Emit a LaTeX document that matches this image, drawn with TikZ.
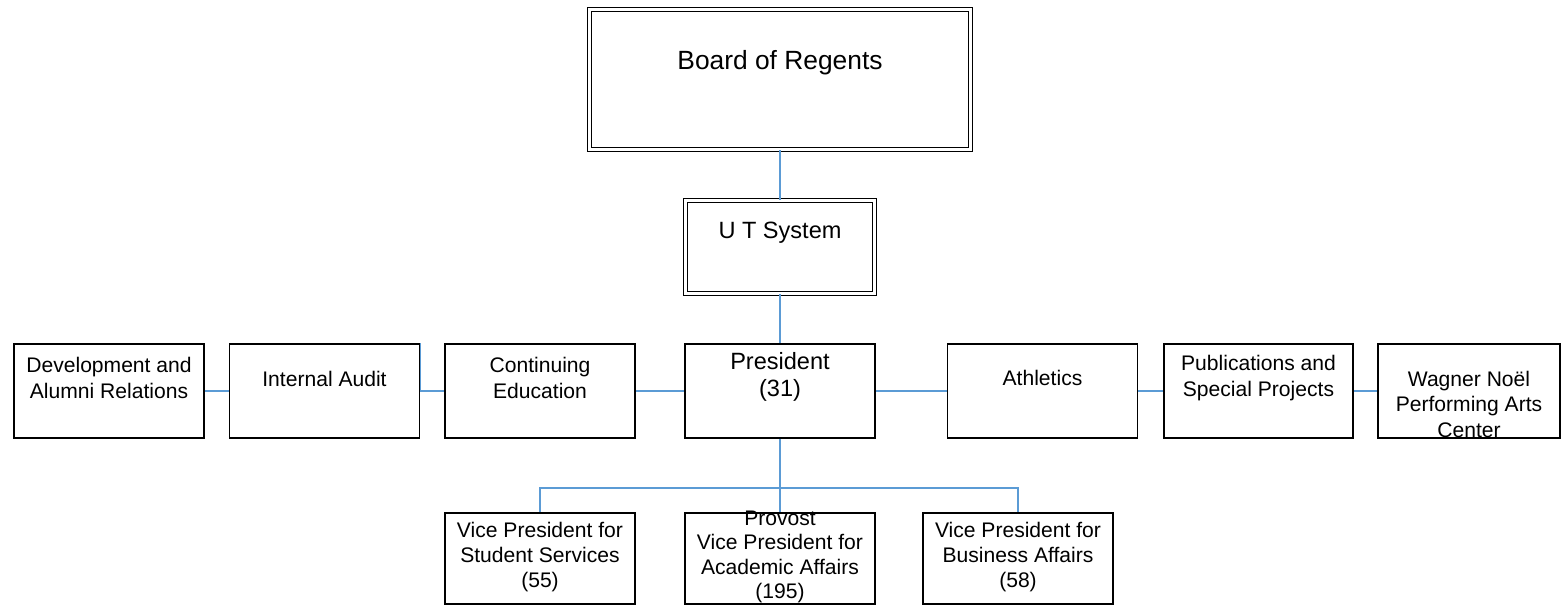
\documentclass[tikz,border=0pt]{standalone}
\usepackage{fontspec}
\setmainfont{Liberation Sans}
\definecolor{linkblue}{RGB}{91,155,213}
\tikzset{
    unit/.style={draw, line width=1pt, inner sep=0pt, minimum width=3.8cm, minimum height=1.88cm},
    headbox/.style={draw, double, line width=0.7pt, double distance=0.05cm, inner sep=0pt},
    boxtext/.style={align=center, inner sep=0pt, font=\fontsize{12}{14.5}\selectfont},
    link/.style={draw=linkblue, line width=0.8pt}
}
\begin{document}
\begin{tikzpicture}[x=0.02cm, y=-0.02cm]
    \useasboundingbox (0,0) rectangle (1562,607);

    % top of the chart
    \node[headbox, minimum width=7.62cm, minimum height=2.8cm] (board) at (780,79.5) {};
    \node[boxtext, font=\fontsize{15}{18}\selectfont] (board-t) at (780,63) {Board of Regents};
    \node[headbox, minimum width=3.78cm, minimum height=1.86cm] (ut) at (780,247) {};
    \node[boxtext, font=\fontsize{13.4}{16}\selectfont] (ut-t) at (780,233) {U T System};

    \node[unit] (pres) at (780,391) {};
    \node[boxtext, font=\fontsize{13.4}{15.5}\selectfont] (pres-t) at (780,377) {President\\(31)};

    % offices beside the president
    \foreach \nm/\x/\w/\ty/\txt in {
        dev/109/3.8/378/{Development and\\Alumni Relations},
        audit/324.5/3.8/379/{Internal Audit},
        cont/540/3.8/378/{Continuing\\Education},
        ath/1042.5/3.8/378/{Athletics},
        pub/1258.5/3.78/378/{Publications and\\Special Projects},
        wag/1469/3.64/404/{Wagner Noël\\Performing Arts\\Center}} {
        \node[unit, minimum width=\w cm] (\nm) at (\x,391) {};
        \node[boxtext] (\nm-t) at (\x,\ty) {\txt};
    }

    % vice presidents
    \foreach \nm/\x/\txt in {
        vpss/540/{Vice President for\\Student Services\\(55)},
        prov/780/{Provost\\Vice President for\\Academic Affairs\\(195)},
        vpba/1018/{Vice President for\\Business Affairs\\(58)}} {
        \node[unit, minimum height=1.82cm] (\nm) at (\x,558.5) {};
        \node[boxtext, font=\fontsize{12}{14}\selectfont] (\nm-t) at (\x,557) {\txt};
    }

    \draw[link] (board) -- (ut);
    \draw[link] (ut) -- (pres);
    \foreach \a/\b in {dev/audit, audit/cont, cont/pres, pres/ath, ath/pub, pub/wag}
        \draw[link] (\a) -- (\b);
    \draw[link] (audit.east) -- (audit.north east);

    \coordinate (fork) at (780,488);
    \draw[link] (pres) -- (fork);
    \draw[link] (vpss.north) |- (fork) -| (vpba.north);
    \draw[link] (fork) -- (prov);
\end{tikzpicture}
\end{document}
